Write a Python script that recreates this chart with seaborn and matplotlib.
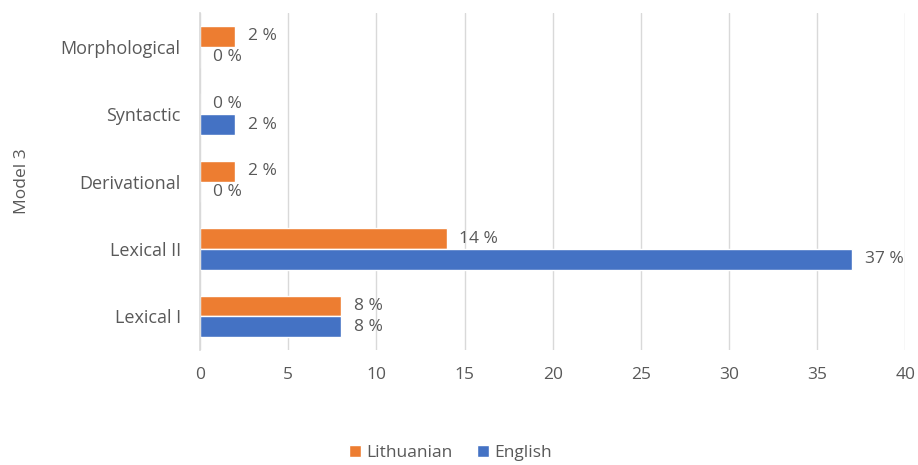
import pandas as pd
import seaborn as sns
import matplotlib.pyplot as plt

categories = ["Morphological", "Syntactic", "Derivational", "Lexical II", "Lexical I"]
lithuanian = [2, 0, 2, 14, 8]
english = [0, 2, 0, 37, 8]
series = ["Lithuanian", "English"]
colors = ["#ED7D31", "#4472C4"]

df = pd.DataFrame({
    "category": categories * 2,
    "value": lithuanian + english,
    "language": ["Lithuanian"] * len(categories) + ["English"] * len(categories),
})

sns.set_theme(style="white")
plt.rcParams["font.family"] = ["Open Sans", "DejaVu Sans"]
text_color = "#595959"

fig = plt.figure(figsize=(9.18, 4.65), dpi=100)
ax = fig.add_axes([0.218, 0.247, 0.768, 0.725])

sns.barplot(data=df, x="value", y="category", hue="language", order=categories,
            hue_order=series, palette=colors, orient="h", width=0.62,
            saturation=1, ax=ax, legend=True)

for cont in ax.containers:
    ax.bar_label(cont, fmt="%d %%", padding=9, fontsize=12.5, color=text_color)

ax.set_xlim(0, 40)
ax.set_xticks(range(0, 41, 5))
ax.xaxis.grid(True, color="#D9D9D9", linewidth=1)
ax.set_axisbelow(True)
for s in ["top", "right", "bottom"]:
    ax.spines[s].set_visible(False)
ax.spines["left"].set_color("#D9D9D9")
ax.tick_params(axis="x", length=0, labelsize=12.5, colors=text_color, pad=12)
ax.tick_params(axis="y", length=0, labelsize=13, colors=text_color, pad=14)
ax.set_xlabel("")
ax.set_ylabel("Model 3", fontsize=12.5, color=text_color, labelpad=22)

ax.legend(loc="center", bbox_to_anchor=(0.355, -0.305), ncol=2, frameon=False,
          fontsize=12.5, labelcolor=text_color, handlelength=0.7, handleheight=0.7,
          handletextpad=0.3, columnspacing=1.4)

fig.savefig("out.png", dpi=100)
